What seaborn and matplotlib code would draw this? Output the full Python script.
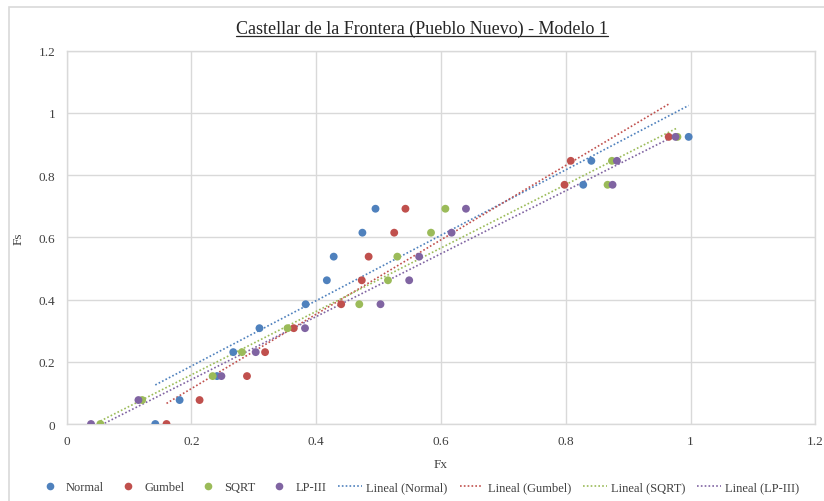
"""
Castellar de la Frontera (Pueblo Nuevo) - Modelo 1
Fs vs Fx scatter with linear trend lines (Excel style)
"""

import numpy as np
import pandas as pd
import matplotlib
matplotlib.use("Agg")
import matplotlib.pyplot as plt
from matplotlib.lines import Line2D
from matplotlib.patches import Rectangle
import seaborn as sns

# ============================================================================
# DATA
# ============================================================================

fs = [0, 0.077, 0.154, 0.231, 0.308, 0.385, 0.462, 0.538, 0.615, 0.692, 0.769, 0.846, 0.923]

fx_normal = [0.142, 0.181, 0.241, 0.267, 0.309, 0.383, 0.417, 0.428, 0.474, 0.495, 0.828, 0.841, 0.997]
fx_gumbel = [0.160, 0.213, 0.289, 0.318, 0.364, 0.440, 0.473, 0.484, 0.525, 0.543, 0.798, 0.808, 0.965]
fx_sqrt = [0.054, 0.121, 0.234, 0.281, 0.354, 0.469, 0.515, 0.530, 0.584, 0.607, 0.867, 0.874, 0.979]
fx_lp3 = [0.039, 0.115, 0.248, 0.303, 0.382, 0.503, 0.549, 0.565, 0.617, 0.640, 0.875, 0.882, 0.976]

series_names = ['Normal', 'Gumbel', 'SQRT', 'LP-III']
series_fx = [fx_normal, fx_gumbel, fx_sqrt, fx_lp3]
colors = ['#4F81BD', '#C0504D', '#9BBB59', '#8064A2']

x_ticks = [0, 0.2, 0.4, 0.6, 0.8, 1, 1.2]
y_ticks = [0, 0.2, 0.4, 0.6, 0.8, 1, 1.2]

GRID = '#D9D9D9'

# ============================================================================
# PLOT
# ============================================================================

sns.set_style("white")
plt.rcParams['font.family'] = ['Liberation Serif', 'DejaVu Serif']

fig = plt.figure(figsize=(8.24, 5.02), dpi=100)
ax = fig.add_axes([66.7 / 824, 1 - 425 / 502, (815.3 - 66.7) / 824, (425 - 51.7) / 502])

# chart area frame (extends past right / bottom edges like the original crop)
fig.patches.append(Rectangle((9 / 824, -0.2), 1.2, 1 - 8 / 502 + 0.2,
                             transform=fig.transFigure, fill=False,
                             edgecolor=GRID, lw=1.2, zorder=0))

for name, fx, c in zip(series_names, series_fx, colors):
    df = pd.DataFrame({'Fx': fx, 'Fs': fs})
    sns.scatterplot(data=df, x='Fx', y='Fs', color=c, s=32, edgecolor='none',
                    ax=ax, zorder=3, legend=False)

for name, fx, c in zip(series_names, series_fx, colors):
    df = pd.DataFrame({'Fx': fx, 'Fs': fs})
    sns.regplot(data=df, x='Fx', y='Fs', scatter=False, ci=None, truncate=True,
                ax=ax, line_kws=dict(color=c, lw=1.2, ls=(0, (1, 1.3)), zorder=2))

ax.set_xlim(0, 1.2)
ax.set_ylim(0, 1.2)
ax.set_xticks(x_ticks)
ax.set_yticks(y_ticks)
ax.set_xticklabels([f"{t:g}" for t in x_ticks])
ax.set_yticklabels([f"{t:g}" for t in y_ticks])
ax.tick_params(axis='both', length=0, labelsize=9.5, colors='#404040', pad=8)
ax.grid(True, color=GRID, lw=1)
ax.set_axisbelow(True)
for sp in ax.spines.values():
    sp.set_color(GRID)
    sp.set_linewidth(1)

ax.set_xlabel('Fx', fontsize=9.5, color='#404040', labelpad=8)
ax.set_ylabel('Fs', fontsize=9.5, color='#404040')
ax.yaxis.set_label_coords((25 - 66.7) / 748.6, 0.5)

title = fig.text(0.512, 1 - 29 / 502, 'Castellar de la Frontera (Pueblo Nuevo) - Modelo 1',
                 ha='center', va='center', fontsize=13, color='#262626')

# underline the title
fig.canvas.draw()
bb = title.get_window_extent().transformed(fig.transFigure.inverted())
fig.add_artist(Line2D([bb.x0, bb.x1], [bb.y0 + 0.002, bb.y0 + 0.002],
                      transform=fig.transFigure, color='#262626', lw=0.9))

handles = []
for name, c in zip(series_names, colors):
    handles.append(Line2D([], [], ls='none', marker='o', ms=5.5, color=c,
                          markeredgecolor='none', label=name))
for name, c in zip(series_names, colors):
    handles.append(Line2D([], [], color=c, lw=1.2, ls=(0, (1, 1.3)),
                          label=f'Lineal ({name})'))

fig.legend(handles=handles, loc='center', bbox_to_anchor=(0.508, 1 - 488 / 502),
           ncol=8, frameon=False, fontsize=9, handlelength=1.9,
           handletextpad=0.35, columnspacing=0.95, labelcolor='#404040')

fig.savefig('out.png', dpi=100)
